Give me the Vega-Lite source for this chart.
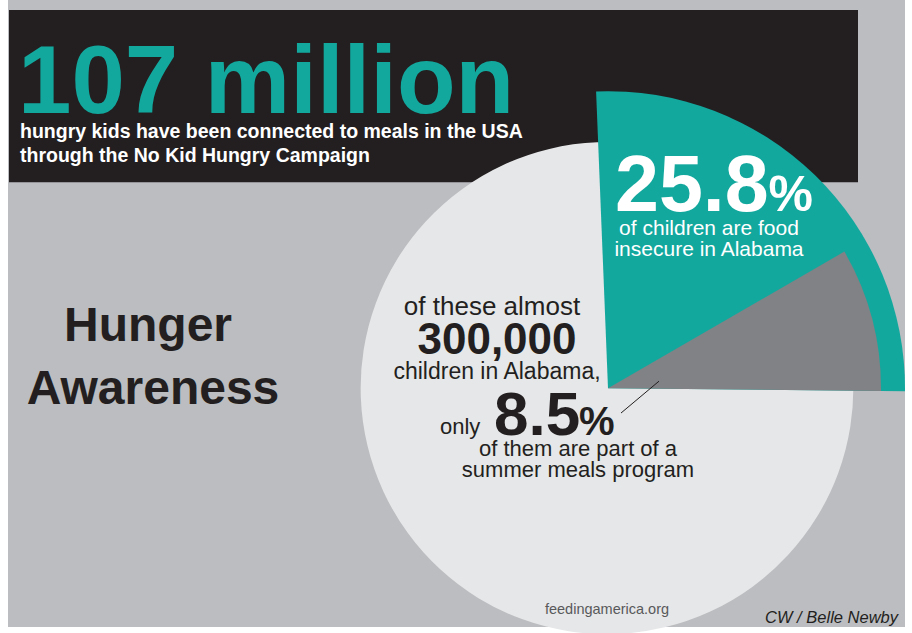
{
  "$schema": "https://vega.github.io/schema/vega-lite/v6.json",
  "width": 912,
  "height": 633,
  "padding": 0,
  "autosize": {"type": "fit", "contains": "padding"},
  "background": "#ffffff",
  "config": {"view": {"stroke": null}, "axis": {"disable": true}, "legend": {"disable": true}},
  "layer": [
    {
      "data": {"values": [{"part": "panel"}]},
      "mark": {"type": "rect", "color": "#bcbdc0"},
      "encoding": {
        "x": {"datum": 8, "type": "quantitative", "scale": {"type": "linear", "domain": [0, 912], "nice": false, "zero": false}, "axis": null},
        "x2": {"datum": 905},
        "y": {"datum": 0, "type": "quantitative", "scale": {"type": "linear", "domain": [0, 633], "reverse": true, "nice": false, "zero": false}, "axis": null},
        "y2": {"datum": 630}
      }
    },
    {
      "data": {"values": [{"part": "header"}]},
      "mark": {"type": "rect", "color": "#231f20"},
      "encoding": {
        "x": {"datum": 9, "type": "quantitative"},
        "x2": {"datum": 858},
        "y": {"datum": 10, "type": "quantitative"},
        "y2": {"datum": 183}
      }
    },
    {
      "data": {"values": [{"group": "all children in Alabama", "start": 0, "end": 100}]},
      "mark": {"type": "arc", "radius": 246},
      "encoding": {
        "x": {"datum": 607, "type": "quantitative"},
        "y": {"datum": 390, "type": "quantitative"},
        "theta": {"field": "start", "type": "quantitative", "stack": null, "scale": {"type": "linear", "domain": [0, 100], "range": [-0.0401, 6.2431]}},
        "theta2": {"field": "end"},
        "color": {"field": "group", "type": "nominal", "legend": null, "scale": {"domain": ["all children in Alabama", "food insecure", "in summer meals program"], "range": ["#e6e7e8", "#13a89e", "#808285"]}}
      }
    },
    {
      "data": {"values": [{"group": "food insecure", "start": 0, "end": 25.8}]},
      "mark": {"type": "arc", "radius": 297},
      "encoding": {
        "x": {"datum": 608, "type": "quantitative"},
        "y": {"datum": 390, "type": "quantitative"},
        "theta": {"field": "start", "type": "quantitative", "stack": null},
        "theta2": {"field": "end"},
        "color": {"field": "group", "type": "nominal", "legend": null}
      }
    },
    {
      "data": {"values": [{"group": "in summer meals program", "start": 17.3, "end": 25.8}]},
      "mark": {"type": "arc", "radius": 273},
      "encoding": {
        "x": {"datum": 608, "type": "quantitative"},
        "y": {"datum": 390, "type": "quantitative"},
        "theta": {"field": "start", "type": "quantitative", "stack": null},
        "theta2": {"field": "end"},
        "color": {"field": "group", "type": "nominal", "legend": null}
      }
    },
    {
      "data": {"values": [{"part": "leader"}]},
      "mark": {"type": "rule", "color": "#231f20", "strokeWidth": 1},
      "encoding": {
        "x": {"datum": 659, "type": "quantitative"},
        "x2": {"datum": 621},
        "y": {"datum": 383, "type": "quantitative"},
        "y2": {"datum": 415}
      }
    },
    {
      "data": {"values": [{"label": "107 million"}]},
      "mark": {"type": "text", "font": "Liberation Sans", "fontWeight": "bold", "fontSize": 96, "color": "#13a89e", "align": "left", "baseline": "alphabetic"},
      "encoding": {"text": {"field": "label"}, "x": {"datum": 18, "type": "quantitative"}, "y": {"datum": 114, "type": "quantitative"}}
    },
    {
      "data": {"values": [{"label": "hungry kids have been connected to meals in the USA"}]},
      "mark": {"type": "text", "font": "Liberation Sans", "fontWeight": "bold", "fontSize": 19.5, "color": "#ffffff", "align": "left", "baseline": "alphabetic"},
      "encoding": {"text": {"field": "label"}, "x": {"datum": 20, "type": "quantitative"}, "y": {"datum": 139, "type": "quantitative"}}
    },
    {
      "data": {"values": [{"label": "through the No Kid Hungry Campaign"}]},
      "mark": {"type": "text", "font": "Liberation Sans", "fontWeight": "bold", "fontSize": 19.5, "color": "#ffffff", "align": "left", "baseline": "alphabetic"},
      "encoding": {"text": {"field": "label"}, "x": {"datum": 20, "type": "quantitative"}, "y": {"datum": 163, "type": "quantitative"}}
    },
    {
      "data": {"values": [{"label": "Hunger"}]},
      "mark": {"type": "text", "font": "Liberation Sans", "fontWeight": "bold", "fontSize": 48, "color": "#231f20", "align": "center", "baseline": "alphabetic"},
      "encoding": {"text": {"field": "label"}, "x": {"datum": 148, "type": "quantitative"}, "y": {"datum": 343, "type": "quantitative"}}
    },
    {
      "data": {"values": [{"label": "Awareness"}]},
      "mark": {"type": "text", "font": "Liberation Sans", "fontWeight": "bold", "fontSize": 48, "color": "#231f20", "align": "center", "baseline": "alphabetic"},
      "encoding": {"text": {"field": "label"}, "x": {"datum": 153, "type": "quantitative"}, "y": {"datum": 406, "type": "quantitative"}}
    },
    {
      "data": {"values": [{"label": "25.8"}]},
      "mark": {"type": "text", "font": "Liberation Sans", "fontWeight": "bold", "fontSize": 79, "color": "#ffffff", "align": "left", "baseline": "alphabetic"},
      "encoding": {"text": {"field": "label"}, "x": {"datum": 615, "type": "quantitative"}, "y": {"datum": 212, "type": "quantitative"}}
    },
    {
      "data": {"values": [{"label": "%"}]},
      "mark": {"type": "text", "font": "Liberation Sans", "fontWeight": "bold", "fontSize": 50, "color": "#ffffff", "align": "right", "baseline": "alphabetic"},
      "encoding": {"text": {"field": "label"}, "x": {"datum": 813, "type": "quantitative"}, "y": {"datum": 212, "type": "quantitative"}}
    },
    {
      "data": {"values": [{"label": "of children are food"}]},
      "mark": {"type": "text", "font": "Liberation Sans", "fontSize": 21, "color": "#ffffff", "align": "center", "baseline": "alphabetic"},
      "encoding": {"text": {"field": "label"}, "x": {"datum": 709, "type": "quantitative"}, "y": {"datum": 236, "type": "quantitative"}}
    },
    {
      "data": {"values": [{"label": "insecure in Alabama"}]},
      "mark": {"type": "text", "font": "Liberation Sans", "fontSize": 21, "color": "#ffffff", "align": "center", "baseline": "alphabetic"},
      "encoding": {"text": {"field": "label"}, "x": {"datum": 709, "type": "quantitative"}, "y": {"datum": 257, "type": "quantitative"}}
    },
    {
      "data": {"values": [{"label": "of these almost"}]},
      "mark": {"type": "text", "font": "Liberation Sans", "fontSize": 26, "color": "#231f20", "align": "center", "baseline": "alphabetic"},
      "encoding": {"text": {"field": "label"}, "x": {"datum": 492, "type": "quantitative"}, "y": {"datum": 316, "type": "quantitative"}}
    },
    {
      "data": {"values": [{"label": "300,000"}]},
      "mark": {"type": "text", "font": "Liberation Sans", "fontWeight": "bold", "fontSize": 44, "color": "#231f20", "align": "center", "baseline": "alphabetic"},
      "encoding": {"text": {"field": "label"}, "x": {"datum": 497, "type": "quantitative"}, "y": {"datum": 356, "type": "quantitative"}}
    },
    {
      "data": {"values": [{"label": "children in Alabama,"}]},
      "mark": {"type": "text", "font": "Liberation Sans", "fontSize": 23, "color": "#231f20", "align": "center", "baseline": "alphabetic"},
      "encoding": {"text": {"field": "label"}, "x": {"datum": 497, "type": "quantitative"}, "y": {"datum": 381, "type": "quantitative"}}
    },
    {
      "data": {"values": [{"label": "only"}]},
      "mark": {"type": "text", "font": "Liberation Sans", "fontSize": 22, "color": "#231f20", "align": "left", "baseline": "alphabetic"},
      "encoding": {"text": {"field": "label"}, "x": {"datum": 440, "type": "quantitative"}, "y": {"datum": 436, "type": "quantitative"}}
    },
    {
      "data": {"values": [{"label": "8.5"}]},
      "mark": {"type": "text", "font": "Liberation Sans", "fontWeight": "bold", "fontSize": 62, "color": "#231f20", "align": "left", "baseline": "alphabetic"},
      "encoding": {"text": {"field": "label"}, "x": {"datum": 494, "type": "quantitative"}, "y": {"datum": 437, "type": "quantitative"}}
    },
    {
      "data": {"values": [{"label": "%"}]},
      "mark": {"type": "text", "font": "Liberation Sans", "fontWeight": "bold", "fontSize": 40, "color": "#231f20", "align": "left", "baseline": "alphabetic"},
      "encoding": {"text": {"field": "label"}, "x": {"datum": 579, "type": "quantitative"}, "y": {"datum": 437, "type": "quantitative"}}
    },
    {
      "data": {"values": [{"label": "of them are part of a"}]},
      "mark": {"type": "text", "font": "Liberation Sans", "fontSize": 22, "color": "#231f20", "align": "center", "baseline": "alphabetic"},
      "encoding": {"text": {"field": "label"}, "x": {"datum": 578, "type": "quantitative"}, "y": {"datum": 458, "type": "quantitative"}}
    },
    {
      "data": {"values": [{"label": "summer meals program"}]},
      "mark": {"type": "text", "font": "Liberation Sans", "fontSize": 22, "color": "#231f20", "align": "center", "baseline": "alphabetic"},
      "encoding": {"text": {"field": "label"}, "x": {"datum": 578, "type": "quantitative"}, "y": {"datum": 479, "type": "quantitative"}}
    },
    {
      "data": {"values": [{"label": "feedingamerica.org"}]},
      "mark": {"type": "text", "font": "Liberation Sans", "fontSize": 14.5, "color": "#58595b", "align": "center", "baseline": "alphabetic"},
      "encoding": {"text": {"field": "label"}, "x": {"datum": 607, "type": "quantitative"}, "y": {"datum": 617, "type": "quantitative"}}
    },
    {
      "data": {"values": [{"label": "CW / Belle Newby"}]},
      "mark": {"type": "text", "font": "Liberation Sans", "fontStyle": "italic", "fontSize": 16.5, "color": "#231f20", "align": "right", "baseline": "alphabetic"},
      "encoding": {"text": {"field": "label"}, "x": {"datum": 898, "type": "quantitative"}, "y": {"datum": 626, "type": "quantitative"}}
    }
  ]
}
